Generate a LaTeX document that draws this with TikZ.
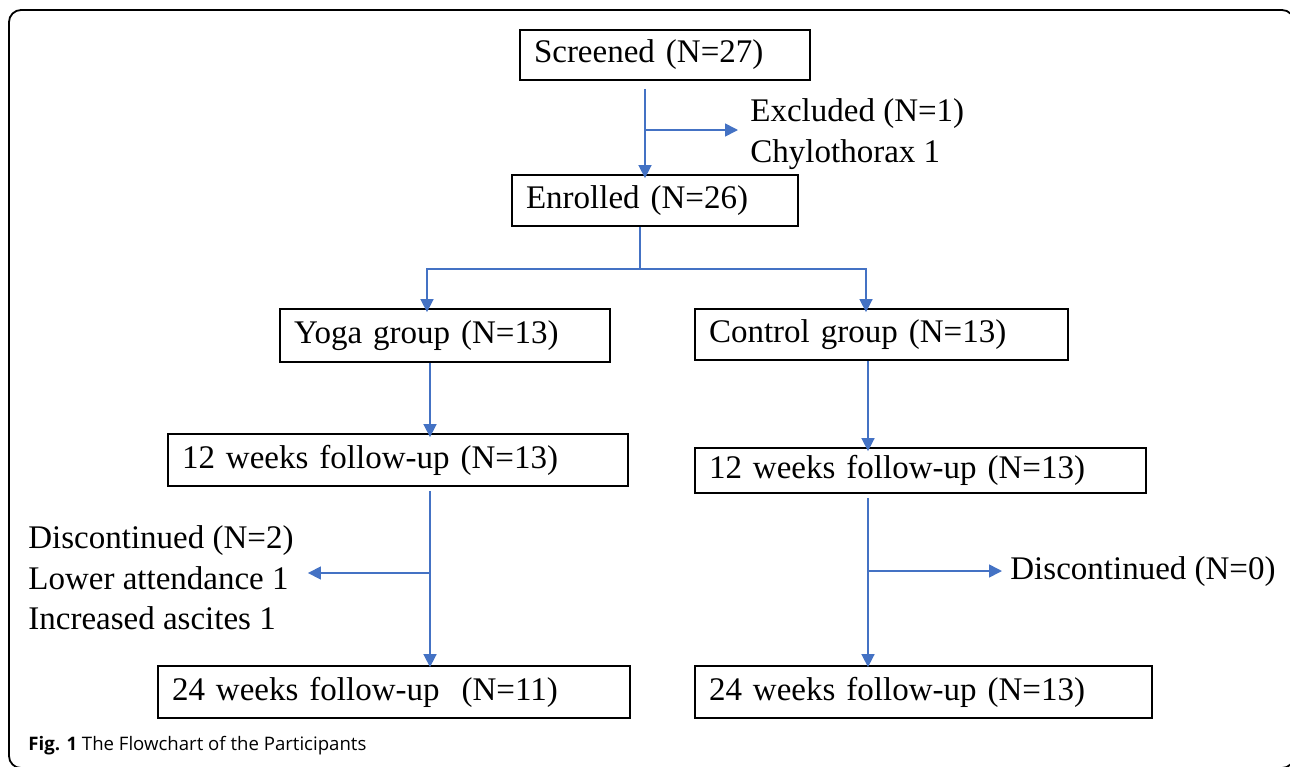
\documentclass[tikz,border=0pt]{standalone}
\usepackage{fontspec}
\setmainfont{Liberation Serif}
\newfontfamily\capfont{Open Sans}
\definecolor{flowblue}{RGB}{68,114,196}
\usetikzlibrary{arrows.meta,positioning,calc}

\begin{document}
\begin{tikzpicture}[x=0.5pt,y=-0.5pt,
    flowbox/.style={draw=black, line width=0.9pt, inner xsep=7pt, inner ysep=0pt, align=left},
    flowline/.style={draw=flowblue, line width=0.8pt, -{Triangle[width=6.5pt,length=6.5pt]}},
    flowtext/.style={font=\fontsize{16.5}{20.3}\selectfont, align=left, inner sep=2pt}]
    \useasboundingbox (0,0) rectangle (1290,766);
    % Outer frame
    \draw[line width=0.9pt, rounded corners=6pt] (9,10) rectangle (1294,768);
    
    \begin{scope}[font=\fontsize{16.5}{20.3}\selectfont]
    \node[flowbox, text width=131pt, minimum height=25pt] (screen) at (665,55) {Screened (N=27)};
    \node[flowbox, text width=129pt, minimum height=25.5pt] (enrol) at (655,200.5) {Enrolled (N=26)};
    \node[flowbox, text width=151pt, minimum height=26.5pt] (yoga) at (445,335.5) {Yoga group (N=13)};
    \node[flowbox, text width=172.5pt, minimum height=25.5pt] (ctrl) at (881.5,334.5) {Control group (N=13)};
    \node[flowbox, text width=216pt, minimum height=26pt] (yoga12) at (398,460) {12 weeks follow-up (N=13)};
    \node[flowbox, text width=211.5pt, minimum height=22.5pt] (ctrl12) at (920.5,470.5) {12 weeks follow-up (N=13)};
    \node[flowbox, text width=222pt, minimum height=26pt] (yoga24) at (394,692) {24 weeks follow-up\ \ (N=11)};
    \node[flowbox, text width=214.5pt, minimum height=26pt] (ctrl24) at (923.5,692) {24 weeks follow-up (N=13)};
    \end{scope}
    
    % Side notes
    \node[flowtext, anchor=west] (excl) at (746,134) {Excluded (N=1)\\Chylothorax 1};
    \node[flowtext, anchor=west] (ydisc) at (24,578) {Discontinued (N=2)\\Lower attendance 1\\Increased ascites 1};
    \node[flowtext, anchor=west] (cdisc) at (1006,572) {Discontinued (N=0)};
    
    % Lanes of the connectors
    \coordinate (exsplit) at (645,130);
    \coordinate (split) at (640,269);
    \coordinate (yl) at (427,0);
    \coordinate (cl) at (866,0);
    \coordinate (ysplit) at (430,573);
    \coordinate (csplit) at (868,571);
    
    \draw[flowline] ([yshift=-4pt]screen.south -| exsplit) -- ([yshift=-2pt]enrol.north -| exsplit);
    \draw[flowline] (exsplit) -- ([xshift=-4pt]exsplit -| excl.west);
    \draw[flowline, -] (enrol.south -| split) -- (split);
    \draw[flowline] (split) -| ([yshift=-2pt]yoga.north -| yl);
    \draw[flowline] (split) -| ([yshift=-2pt]ctrl.north -| cl);
    \draw[flowline] (yoga.south -| ysplit) -- ([yshift=-2pt]yoga12.north -| ysplit);
    \draw[flowline] (ctrl.south -| csplit) -- ([yshift=-2pt]ctrl12.north -| csplit);
    \draw[flowline] ([yshift=-2pt]yoga12.south -| ysplit) -- ([yshift=-1pt]yoga24.north -| ysplit);
    \draw[flowline] ([yshift=-2pt]ctrl12.south -| csplit) -- ([yshift=-1pt]ctrl24.north -| csplit);
    \draw[flowline] (ysplit) -- ([xshift=5pt]ysplit -| ydisc.east);
    \draw[flowline] (csplit) -- ([xshift=-2pt]csplit -| cdisc.west);
    
    % Caption
    \node[anchor=west, inner sep=0pt, font=\capfont\fontsize{9.3}{11}\selectfont] (caption) at (28,746) {\textbf{Fig. 1} The Flowchart of the Participants};
\end{tikzpicture}
\end{document}
